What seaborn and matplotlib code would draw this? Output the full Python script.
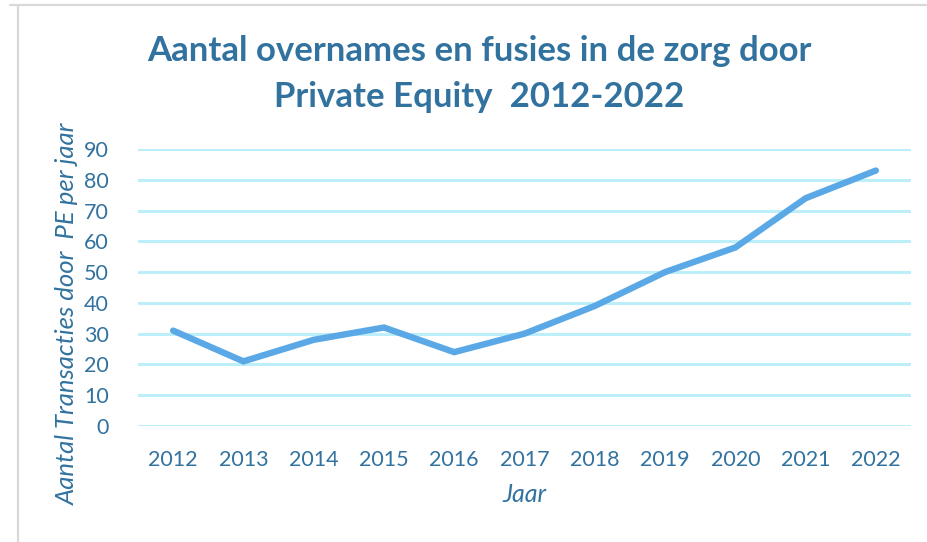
import matplotlib
matplotlib.use("Agg")
import matplotlib.pyplot as plt
import seaborn as sns
import pandas as pd

# Number of private-equity healthcare deals per year
years = [2012, 2013, 2014, 2015, 2016, 2017, 2018, 2019, 2020, 2021, 2022]
transactions = [31, 21, 28, 32, 24, 30, 39, 50, 58, 74, 83]
y_ticks = [0, 10, 20, 30, 40, 50, 60, 70, 80, 90]

title_text = "Aantal overnames en fusies in de zorg door\nPrivate Equity  2012-2022"
x_label = "Jaar"
y_label = "Aantal Transacties door  PE per jaar"

df = pd.DataFrame({"Jaar": years, "Transacties": transactions})

sns.set_theme(style="white")
plt.rcParams["font.family"] = ["Lato", "DejaVu Sans"]

TEXT_BLUE = "#31729f"
LINE_BLUE = "#5aa9e6"
GRID_BLUE = "#bdeffb"

fig = plt.figure(figsize=(9.27, 5.42), dpi=100)
ax = fig.add_axes([138 / 927, 1 - 426 / 542, (911 - 138) / 927, (426 - 149) / 542])

# Horizontal gridlines
for v in y_ticks:
    ax.axhline(v, color=GRID_BLUE, lw=2.2, zorder=1)

sns.lineplot(data=df, x="Jaar", y="Transacties", ax=ax, color=LINE_BLUE,
             lw=4.6, solid_capstyle="round", solid_joinstyle="miter", zorder=3)

ax.set_xlim(2011.5, 2022.5)
ax.set_ylim(0, 90)
ax.set_xticks(years)
ax.set_xticklabels([str(y) for y in years])
ax.set_yticks(y_ticks)
ax.tick_params(axis="both", length=0, labelsize=15.5, labelcolor=TEXT_BLUE)
ax.tick_params(axis="x", pad=17)
ax.tick_params(axis="y", pad=21)
for s in ax.spines.values():
    s.set_visible(False)
ax.set_xlabel("")
ax.set_ylabel("")

fig.text(524 / 927, 1 - 495 / 542, x_label, ha="center", va="center",
         fontsize=18, style="italic", color=TEXT_BLUE)
fig.text(67 / 927, 1 - 314 / 542, y_label, ha="center", va="center",
         rotation=90, fontsize=18.5, style="italic", color=TEXT_BLUE)

fig.text(479 / 927, 1 - 74 / 542, title_text, ha="center", va="center",
         fontsize=25, fontweight="bold", color=TEXT_BLUE, linespacing=1.55)

# Light frame around the chart area
fig.add_artist(plt.Line2D([10 / 927, 1], [1 - 4.5 / 542, 1 - 4.5 / 542],
                          transform=fig.transFigure, color="#d9d9d9", lw=1.6))
fig.add_artist(plt.Line2D([17.5 / 927, 17.5 / 927], [0, 1 - 4.5 / 542],
                          transform=fig.transFigure, color="#d9d9d9", lw=1.6))

fig.savefig("out.png", dpi=100, facecolor="white")
